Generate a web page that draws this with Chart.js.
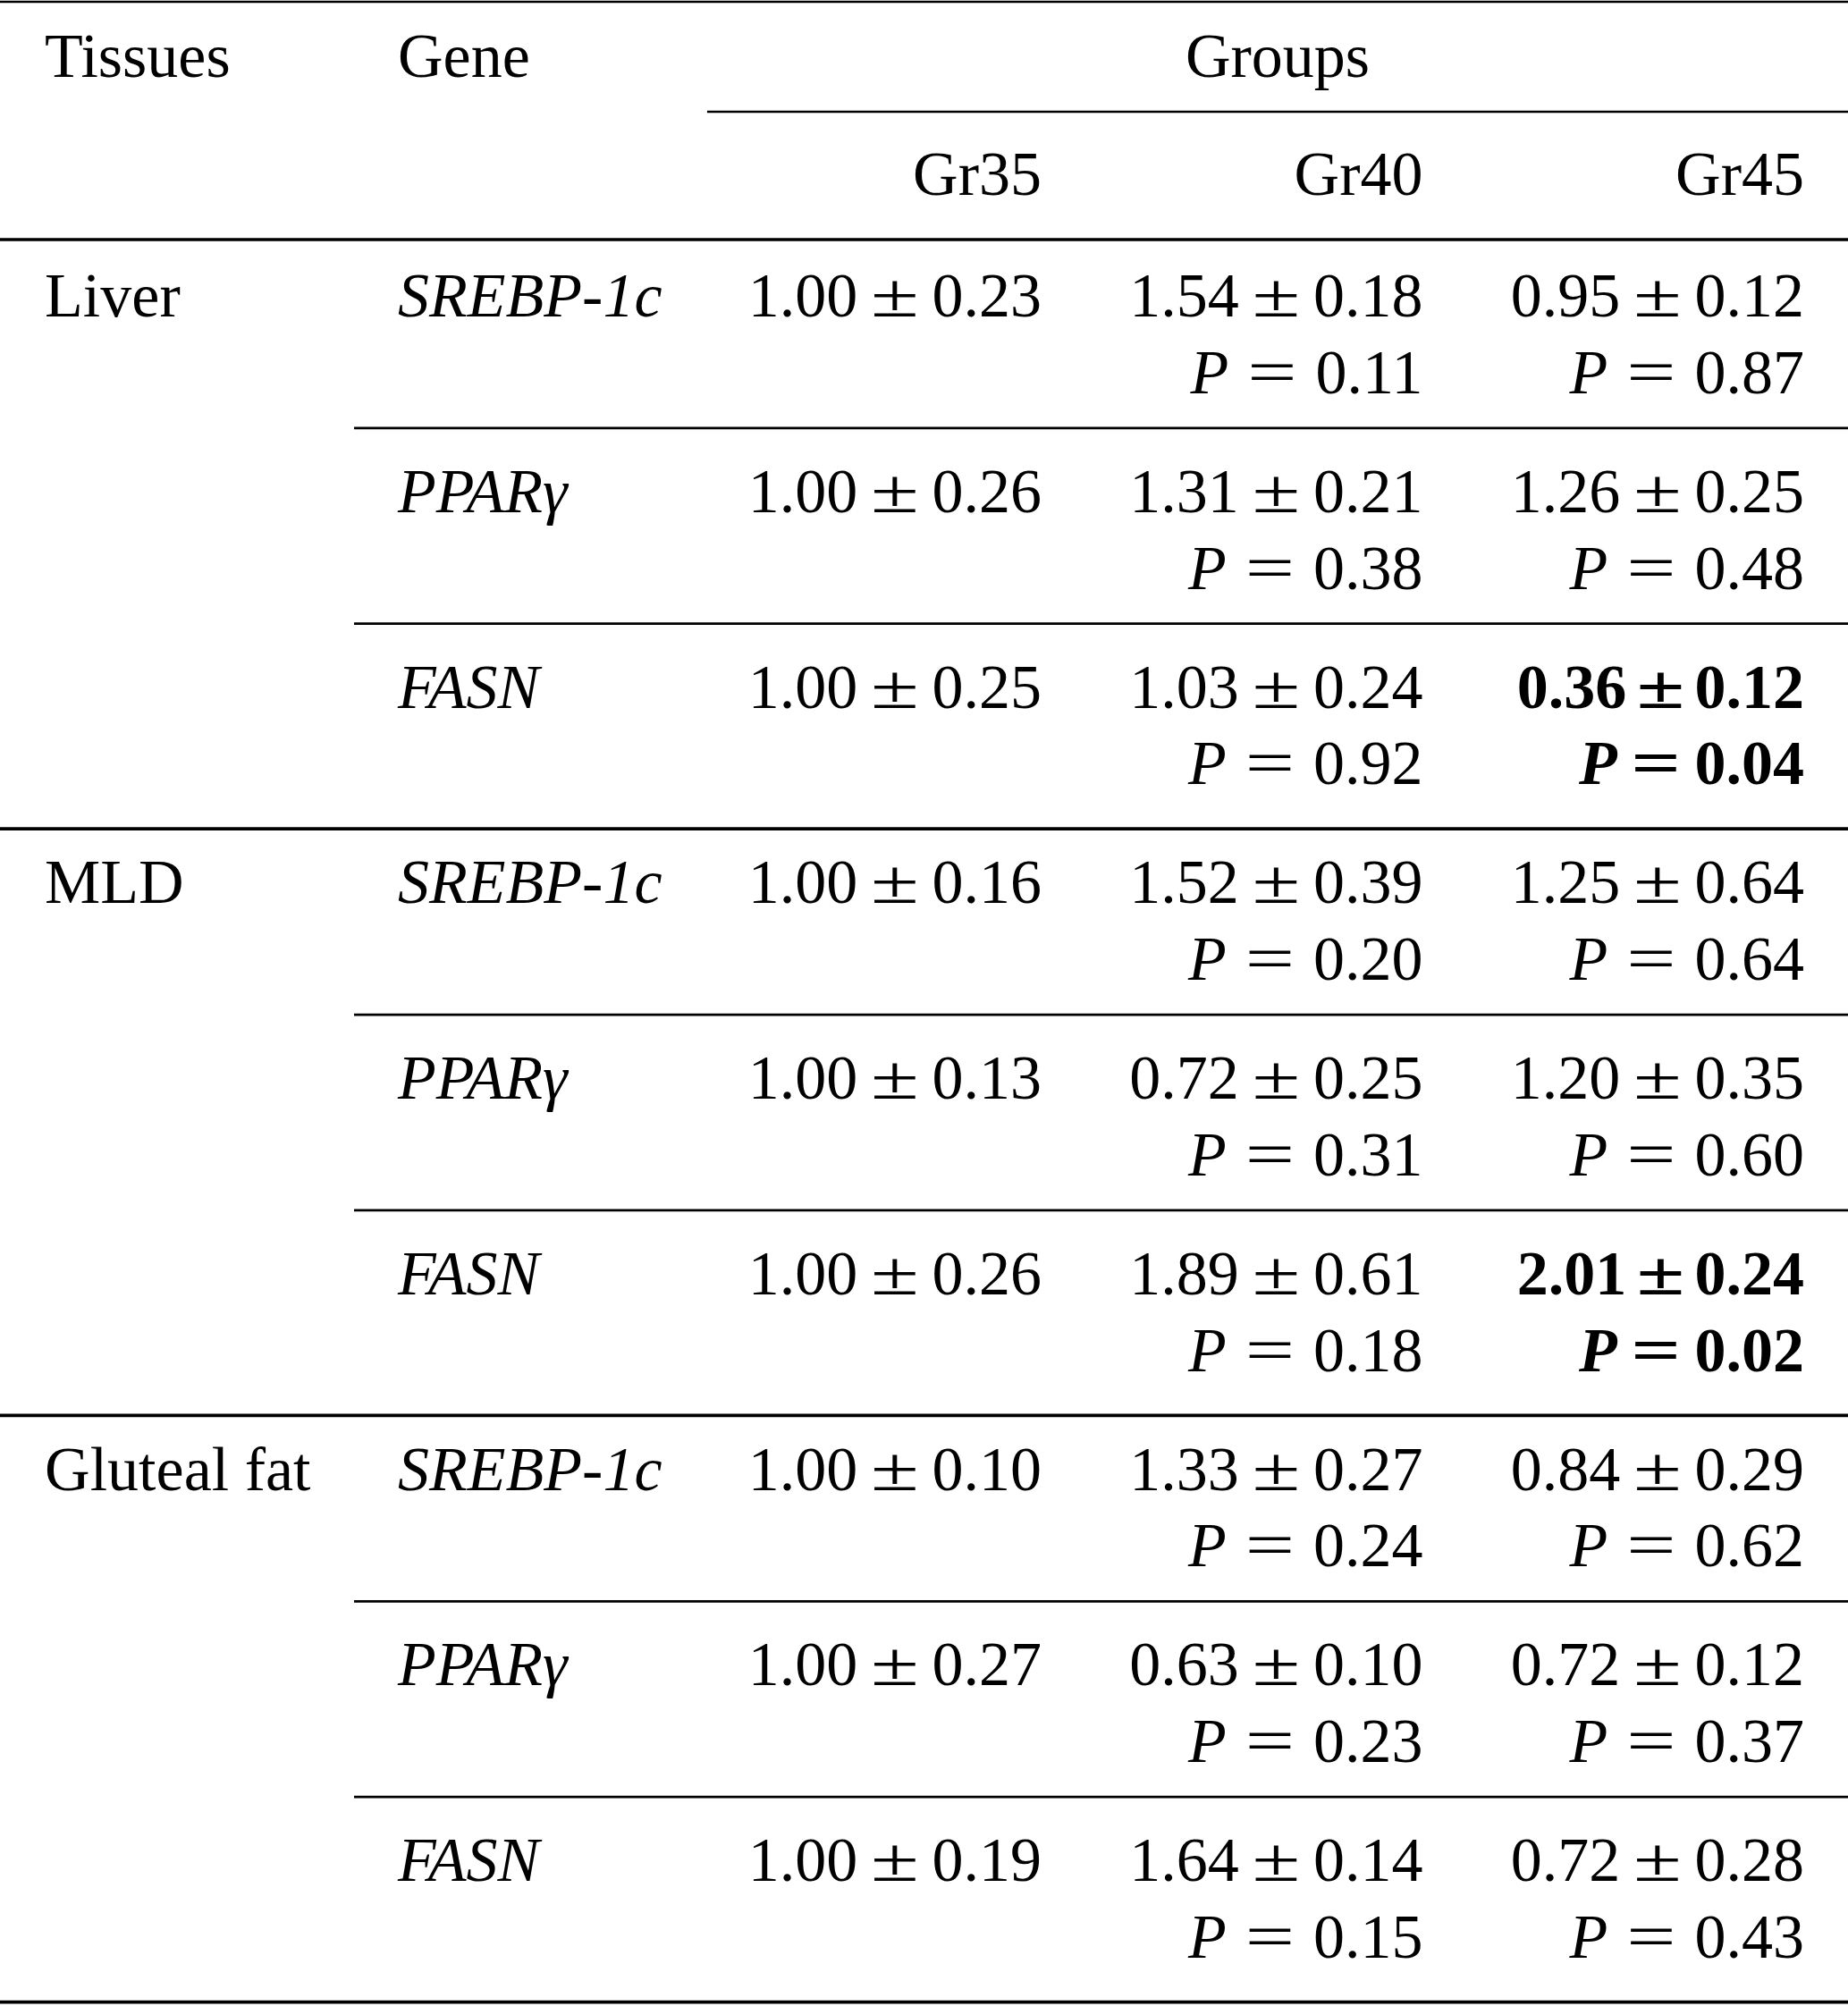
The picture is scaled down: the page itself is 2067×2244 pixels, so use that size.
<!DOCTYPE html>
<html>
<head>
<meta charset="utf-8">
<script src="https://cdn.jsdelivr.net/npm/chart.js@4.4.1/dist/chart.umd.min.js"></script>
<style>
  html, body { margin: 0; padding: 0; background: #fff; }
  #wrap { width: 2067px; height: 2244px; }
</style>
</head>
<body>
<div id="wrap"><canvas id="table" width="2067" height="2244"></canvas></div>
<script>
// table content
const tissues = ['Liver', 'MLD', 'Gluteal fat'];
const genes = ['SREBP-1c', 'PPARγ', 'FASN'];
const groups = ['Gr35', 'Gr40', 'Gr45'];

const gr35Mean = [1.00, 1.00, 1.00, 1.00, 1.00, 1.00, 1.00, 1.00, 1.00];
const gr35Sd   = [0.23, 0.26, 0.25, 0.16, 0.13, 0.26, 0.10, 0.27, 0.19];
const gr40Mean = [1.54, 1.31, 1.03, 1.52, 0.72, 1.89, 1.33, 0.63, 1.64];
const gr40Sd   = [0.18, 0.21, 0.24, 0.39, 0.25, 0.61, 0.27, 0.10, 0.14];
const gr40P    = [0.11, 0.38, 0.92, 0.20, 0.31, 0.18, 0.24, 0.23, 0.15];
const gr45Mean = [0.95, 1.26, 0.36, 1.25, 1.20, 2.01, 0.84, 0.72, 0.72];
const gr45Sd   = [0.12, 0.25, 0.12, 0.64, 0.35, 0.24, 0.29, 0.12, 0.28];
const gr45P    = [0.87, 0.48, 0.04, 0.64, 0.60, 0.02, 0.62, 0.37, 0.43];

const columns = [
  {mean: gr35Mean, sd: gr35Sd, p: null},
  {mean: gr40Mean, sd: gr40Sd, p: gr40P},
  {mean: gr45Mean, sd: gr45Sd, p: gr45P}
];

// layout in scale units (x: group column = 1,2,3 ; y: gene row = 0..8)
const layout = {
  xMin: -1.7315, xMax: 3.115,
  yMin: -1.6183, yMax: 8.64,
  tissueX: -1.614, geneX: -0.688, sepStartX: -0.803, groupsRuleX: 0.123,
  headTopY: -1.225, headSubY: -0.622,
  topRuleY: -1.609, groupsRuleY: -1.047, headRuleY: -0.393,
  pLine: 0.393, thinSep: 0.571, thickSep: 0.62,
  thin: 2.6, thick: 3.6
};

const FS = 70;
const serif = '"Liberation Serif", "Times New Roman", serif';
const fReg = FS + 'px ' + serif;
const fIt = 'italic ' + FS + 'px ' + serif;
const fBold = 'bold ' + FS + 'px ' + serif;
const fBoldIt = 'italic bold ' + FS + 'px ' + serif;

const rows = gr35Mean.map((_, i) => i);

function fmt(v) { return v.toFixed(2); }

// draws pieces of text right-aligned at x, glyphs can be stretched (sx)
function drawRun(ctx, parts, right, base) {
  const widths = parts.map(p => { ctx.font = p.font; return ctx.measureText(p.t).width * (p.sx || 1); });
  const total = widths.reduce((a, b) => a + b, 0) + parts.reduce((a, p) => a + (p.gap || 0), 0);
  let x = right - total;
  parts.forEach((p, k) => {
    ctx.font = p.font;
    ctx.save();
    ctx.translate(x, base);
    ctx.scale(p.sx || 1, 1);
    ctx.fillText(p.t, 0, 0);
    ctx.restore();
    x += widths[k] + (p.gap || 0);
  });
}

function meanRun(m, s, bold) {
  const f = bold ? fBold : fReg;
  const g = (bold ? 0.16 : 0.21) * FS;
  return [{t: fmt(m), font: f, gap: g}, {t: '±', font: f, sx: 1.4, gap: g}, {t: fmt(s), font: f}];
}

function pRun(p, bold) {
  const g = (bold ? 0.22 : 0.3) * FS;
  return [{t: 'P', font: bold ? fBoldIt : fIt, gap: g},
          {t: '=', font: bold ? fBold : fReg, sx: 1.4, gap: g},
          {t: fmt(p), font: bold ? fBold : fReg}];
}

const tablePlugin = {
  id: 'tableText',
  afterDatasetsDraw(chart) {
    const ctx = chart.ctx;
    const xs = chart.scales.x, ys = chart.scales.y;
    const X = v => xs.getPixelForValue(v), Y = v => ys.getPixelForValue(v);
    ctx.save();
    ctx.fillStyle = '#000';
    ctx.strokeStyle = '#000';
    ctx.textBaseline = 'alphabetic';

    function rule(x0, x1, y, w) {
      ctx.lineWidth = w;
      ctx.beginPath();
      ctx.moveTo(X(x0), Y(y));
      ctx.lineTo(X(x1), Y(y));
      ctx.stroke();
    }

    // rules
    rule(layout.xMin, layout.xMax, layout.topRuleY, layout.thin);
    rule(layout.groupsRuleX, layout.xMax, layout.groupsRuleY, layout.thin);
    rule(layout.xMin, layout.xMax, layout.headRuleY, layout.thick);
    rows.forEach(i => {
      if (i % 3 === 2) rule(layout.xMin, layout.xMax, i + layout.thickSep, layout.thick);
      else rule(layout.sepStartX, layout.xMax, i + layout.thinSep, layout.thin);
    });

    // header
    ctx.font = fReg;
    ctx.textAlign = 'left';
    ctx.fillText('Tissues', X(layout.tissueX), Y(layout.headTopY));
    ctx.fillText('Gene', X(layout.geneX), Y(layout.headTopY));
    ctx.textAlign = 'center';
    ctx.fillText('Groups', X((layout.groupsRuleX + layout.xMax) / 2), Y(layout.headTopY));
    ctx.textAlign = 'right';
    groups.forEach((g, k) => ctx.fillText(g, X(k + 1), Y(layout.headSubY)));

    // body cells, placed at the dataset points
    ctx.textAlign = 'left';
    chart.getDatasetMeta(0).data.forEach((pt, i) => {
      if (i % 3 === 0) { ctx.font = fReg; ctx.fillText(tissues[i / 3], pt.x, pt.y); }
    });
    chart.getDatasetMeta(1).data.forEach((pt, i) => {
      ctx.font = fIt; ctx.fillText(genes[i % 3], pt.x, pt.y);
    });
    columns.forEach((col, k) => {
      chart.getDatasetMeta(k + 2).data.forEach((pt, i) => {
        const sig = col.p && col.p[i] < 0.05;
        drawRun(ctx, meanRun(col.mean[i], col.sd[i], sig), pt.x, pt.y);
        if (col.p) drawRun(ctx, pRun(col.p[i], sig), pt.x, Y(i + layout.pLine));
      });
    });
    ctx.restore();
  }
};

const anchor = x => ({label: '', data: rows.map(i => ({x: x, y: i})), pointRadius: 0, showLine: false});

new Chart(document.getElementById('table'), {
  type: 'scatter',
  data: {
    datasets: [anchor(layout.tissueX), anchor(layout.geneX), anchor(1), anchor(2), anchor(3)]
  },
  options: {
    responsive: false,
    animation: false,
    devicePixelRatio: 1,
    layout: {padding: 0},
    plugins: {legend: {display: false}, tooltip: {enabled: false}},
    events: [],
    scales: {
      x: {type: 'linear', display: false, min: layout.xMin, max: layout.xMax},
      y: {type: 'linear', display: false, reverse: true, min: layout.yMin, max: layout.yMax}
    }
  },
  plugins: [tablePlugin]
});
</script>
</body>
</html>
